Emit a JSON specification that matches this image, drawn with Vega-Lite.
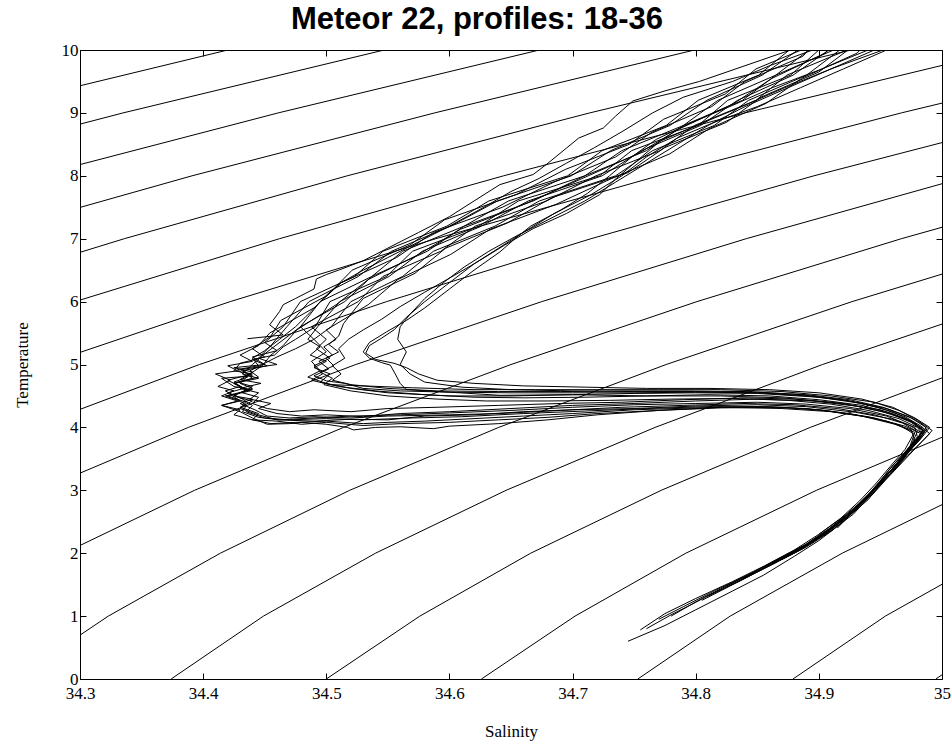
{
"$schema":"https://vega.github.io/schema/vega-lite/v6.json",
"width":862,"height":629,
"autosize":{"type":"none"},
"padding":{"left":80,"top":50,"right":9,"bottom":66},
"background":"white",
"title":{"text":"Meteor 22, profiles: 18-36","font":"Liberation Sans","fontSize":31,"fontWeight":"bold","color":"black","offset":5,"dx":-34},
"config":{"view":{"stroke":null},"axis":{"domainColor":"black","domainWidth":1,"tickColor":"black","tickSize":-6,"tickWidth":1,"labelColor":"black","labelFont":"Liberation Serif","labelFontSize":17,"titleFont":"Liberation Serif","titleFontSize":17,"titleFontWeight":"normal","titleColor":"black","grid":false,"labelOverlap":false,"labelFlush":false}},
"datasets":{
"contours":[
{"c":-6,"s":34.995,"t":0},{"c":-6,"s":35.07,"t":1},
{"c":-5,"s":34.879,"t":0},{"c":-5,"s":34.954,"t":1},{"c":-5,"s":35.045,"t":2},
{"c":-4,"s":34.753,"t":0},{"c":-4,"s":34.828,"t":1},{"c":-4,"s":34.919,"t":2},{"c":-4,"s":35.024,"t":3},
{"c":-3,"s":34.626,"t":0},{"c":-3,"s":34.702,"t":1},{"c":-3,"s":34.792,"t":2},{"c":-3,"s":34.898,"t":3},{"c":-3,"s":35.019,"t":4},
{"c":-2,"s":34.5,"t":0},{"c":-2,"s":34.576,"t":1},{"c":-2,"s":34.666,"t":2},{"c":-2,"s":34.772,"t":3},{"c":-2,"s":34.893,"t":4},{"c":-2,"s":35.029,"t":5},
{"c":-1,"s":34.374,"t":0},{"c":-1,"s":34.449,"t":1},{"c":-1,"s":34.54,"t":2},{"c":-1,"s":34.646,"t":3},{"c":-1,"s":34.767,"t":4},{"c":-1,"s":34.903,"t":5},{"c":-1,"s":35.054,"t":6},
{"c":0,"s":34.247,"t":0},{"c":0,"s":34.323,"t":1},{"c":0,"s":34.414,"t":2},{"c":0,"s":34.519,"t":3},{"c":0,"s":34.64,"t":4},{"c":0,"s":34.776,"t":5},{"c":0,"s":34.927,"t":6},{"c":0,"s":35.094,"t":7},
{"c":1,"s":34.197,"t":1},{"c":1,"s":34.287,"t":2},{"c":1,"s":34.393,"t":3},{"c":1,"s":34.514,"t":4},{"c":1,"s":34.65,"t":5},{"c":1,"s":34.801,"t":6},{"c":1,"s":34.967,"t":7},{"c":1,"s":35.149,"t":8},
{"c":2,"s":34.267,"t":3},{"c":2,"s":34.388,"t":4},{"c":2,"s":34.524,"t":5},{"c":2,"s":34.675,"t":6},{"c":2,"s":34.841,"t":7},{"c":2,"s":35.023,"t":8},
{"c":3,"s":34.261,"t":4},{"c":3,"s":34.397,"t":5},{"c":3,"s":34.549,"t":6},{"c":3,"s":34.715,"t":7},{"c":3,"s":34.896,"t":8},{"c":3,"s":35.093,"t":9},
{"c":4,"s":34.271,"t":5},{"c":4,"s":34.422,"t":6},{"c":4,"s":34.589,"t":7},{"c":4,"s":34.77,"t":8},{"c":4,"s":34.967,"t":9},{"c":4,"s":35.179,"t":10},
{"c":5,"s":34.145,"t":5},{"c":5,"s":34.296,"t":6},{"c":5,"s":34.462,"t":7},{"c":5,"s":34.644,"t":8},{"c":5,"s":34.84,"t":9},{"c":5,"s":35.052,"t":10},
{"c":6,"s":34.17,"t":6},{"c":6,"s":34.336,"t":7},{"c":6,"s":34.517,"t":8},{"c":6,"s":34.714,"t":9},{"c":6,"s":34.926,"t":10},
{"c":7,"s":34.21,"t":7},{"c":7,"s":34.391,"t":8},{"c":7,"s":34.588,"t":9},{"c":7,"s":34.799,"t":10},
{"c":8,"s":34.265,"t":8},{"c":8,"s":34.461,"t":9},{"c":8,"s":34.673,"t":10},
{"c":9,"s":34.139,"t":8},{"c":9,"s":34.335,"t":9},{"c":9,"s":34.547,"t":10},
{"c":10,"s":34.209,"t":9},{"c":10,"s":34.42,"t":10}
],
"profiles":[
{"p":18,"s":34.905,"t":10.4},{"p":18,"s":34.877,"t":10.0},{"p":18,"s":34.84,"t":9.75},{"p":18,"s":34.803,"t":9.5},{"p":18,"s":34.775,"t":9.35},{"p":18,"s":34.749,"t":9.19},{"p":18,"s":34.735,"t":8.95},{"p":18,"s":34.725,"t":8.76},{"p":18,"s":34.705,"t":8.6},{"p":18,"s":34.695,"t":8.44},{"p":18,"s":34.68,"t":8.2},{"p":18,"s":34.668,"t":8.02},{"p":18,"s":34.641,"t":7.86},{"p":18,"s":34.62,"t":7.6},{"p":18,"s":34.6,"t":7.35},{"p":18,"s":34.575,"t":7.1},{"p":18,"s":34.55,"t":6.85},{"p":18,"s":34.53,"t":6.65},{"p":18,"s":34.51,"t":6.5},{"p":18,"s":34.5,"t":6.43},{"p":18,"s":34.492,"t":6.36},{"p":18,"s":34.49,"t":6.2},{"p":18,"s":34.475,"t":6.05},{"p":18,"s":34.465,"t":5.95},{"p":18,"s":34.462,"t":5.84},{"p":18,"s":34.454,"t":5.63},{"p":18,"s":34.465,"t":5.47},{"p":18,"s":34.436,"t":5.41},
{"p":19,"s":34.93,"t":10.4},{"p":19,"s":34.892,"t":10.0},{"p":19,"s":34.865,"t":9.6},{"p":19,"s":34.818,"t":9.2},{"p":19,"s":34.79,"t":8.8},{"p":19,"s":34.74,"t":8.4},{"p":19,"s":34.71,"t":8.0},{"p":19,"s":34.648,"t":7.6},{"p":19,"s":34.612,"t":7.2},{"p":19,"s":34.562,"t":6.8},{"p":19,"s":34.537,"t":6.4},{"p":19,"s":34.495,"t":6.0},{"p":19,"s":34.479,"t":5.6},{"p":19,"s":34.452,"t":5.2},{"p":19,"s":34.44,"t":5.0},{"p":19,"s":34.432,"t":4.85},{"p":19,"s":34.445,"t":4.78},{"p":19,"s":34.425,"t":4.7},{"p":19,"s":34.438,"t":4.58},{"p":19,"s":34.42,"t":4.5},{"p":19,"s":34.435,"t":4.4},{"p":19,"s":34.43,"t":4.3},{"p":19,"s":34.445,"t":4.2},{"p":19,"s":34.46,"t":4.12},{"p":19,"s":34.49,"t":4.1},{"p":19,"s":34.52,"t":4.13},{"p":19,"s":34.55,"t":4.12},{"p":19,"s":34.58,"t":4.18},{"p":19,"s":34.62,"t":4.2},{"p":19,"s":34.66,"t":4.25},{"p":19,"s":34.7,"t":4.28},{"p":19,"s":34.75,"t":4.3},{"p":19,"s":34.8,"t":4.34},{"p":19,"s":34.85,"t":4.36},{"p":19,"s":34.89,"t":4.33},{"p":19,"s":34.93,"t":4.24},{"p":19,"s":34.96,"t":4.13},{"p":19,"s":34.978,"t":4.0},{"p":19,"s":34.98,"t":3.85},{"p":19,"s":34.97,"t":3.6},{"p":19,"s":34.96,"t":3.35},{"p":19,"s":34.948,"t":3.1},{"p":19,"s":34.935,"t":2.8},{"p":19,"s":34.92,"t":2.5},{"p":19,"s":34.9,"t":2.2},{"p":19,"s":34.88,"t":1.95},{"p":19,"s":34.855,"t":1.65},{"p":19,"s":34.83,"t":1.4},{"p":19,"s":34.8,"t":1.1},{"p":19,"s":34.775,"t":0.85},{"p":19,"s":34.745,"t":0.6},
{"p":20,"s":34.93,"t":10.4},{"p":20,"s":34.912,"t":10.0},{"p":20,"s":34.865,"t":9.6},{"p":20,"s":34.838,"t":9.2},{"p":20,"s":34.79,"t":8.8},{"p":20,"s":34.76,"t":8.4},{"p":20,"s":34.71,"t":8.0},{"p":20,"s":34.668,"t":7.6},{"p":20,"s":34.612,"t":7.2},{"p":20,"s":34.582,"t":6.8},{"p":20,"s":34.537,"t":6.4},{"p":20,"s":34.515,"t":6.0},{"p":20,"s":34.479,"t":5.6},{"p":20,"s":34.49,"t":5.4},{"p":20,"s":34.5,"t":5.2},{"p":20,"s":34.488,"t":5.05},{"p":20,"s":34.495,"t":4.9},{"p":20,"s":34.485,"t":4.8},{"p":20,"s":34.5,"t":4.7},{"p":20,"s":34.52,"t":4.62},{"p":20,"s":34.55,"t":4.55},{"p":20,"s":34.6,"t":4.5},{"p":20,"s":34.65,"t":4.5},{"p":20,"s":34.7,"t":4.52},{"p":20,"s":34.75,"t":4.54},{"p":20,"s":34.8,"t":4.55},{"p":20,"s":34.85,"t":4.54},{"p":20,"s":34.9,"t":4.48},{"p":20,"s":34.935,"t":4.38},{"p":20,"s":34.96,"t":4.25},{"p":20,"s":34.975,"t":4.1},{"p":20,"s":34.985,"t":3.95},{"p":20,"s":34.975,"t":3.7},{"p":20,"s":34.962,"t":3.4},{"p":20,"s":34.95,"t":3.1},{"p":20,"s":34.94,"t":2.85},{"p":20,"s":34.925,"t":2.6},{"p":20,"s":34.91,"t":2.35},{"p":20,"s":34.89,"t":2.1},{"p":20,"s":34.87,"t":1.9},
{"p":21,"s":34.97,"t":10.4},{"p":21,"s":34.94,"t":10.0},{"p":21,"s":34.9,"t":9.68},{"p":21,"s":34.862,"t":9.4},{"p":21,"s":34.83,"t":9.12},{"p":21,"s":34.797,"t":8.85},{"p":21,"s":34.768,"t":8.58},{"p":21,"s":34.748,"t":8.3},{"p":21,"s":34.73,"t":8.0},{"p":21,"s":34.712,"t":7.72},{"p":21,"s":34.69,"t":7.45},{"p":21,"s":34.666,"t":7.2},{"p":21,"s":34.652,"t":6.98},{"p":21,"s":34.641,"t":6.79},{"p":21,"s":34.62,"t":6.5},{"p":21,"s":34.6,"t":6.2},{"p":21,"s":34.58,"t":5.9},{"p":21,"s":34.565,"t":5.7},{"p":21,"s":34.549,"t":5.52},{"p":21,"s":34.535,"t":5.35},{"p":21,"s":34.53,"t":5.2},{"p":21,"s":34.535,"t":5.1},{"p":21,"s":34.545,"t":5.03},{"p":21,"s":34.552,"t":4.99},{"p":21,"s":34.556,"t":4.85},{"p":21,"s":34.56,"t":4.7},{"p":21,"s":34.565,"t":4.6},{"p":21,"s":34.6,"t":4.56},{"p":21,"s":34.641,"t":4.51},{"p":21,"s":34.7,"t":4.52},{"p":21,"s":34.76,"t":4.5},{"p":21,"s":34.82,"t":4.5},{"p":21,"s":34.87,"t":4.47},{"p":21,"s":34.91,"t":4.4},{"p":21,"s":34.95,"t":4.28},{"p":21,"s":34.975,"t":4.1},{"p":21,"s":34.985,"t":3.95},{"p":21,"s":34.975,"t":3.65},{"p":21,"s":34.96,"t":3.3},{"p":21,"s":34.945,"t":3.0},{"p":21,"s":34.93,"t":2.7},{"p":21,"s":34.915,"t":2.4},
{"p":22,"s":34.919,"t":10.4},{"p":22,"s":34.883,"t":10.0},{"p":22,"s":34.854,"t":9.6},{"p":22,"s":34.809,"t":9.2},{"p":22,"s":34.779,"t":8.8},{"p":22,"s":34.731,"t":8.4},{"p":22,"s":34.699,"t":8.0},{"p":22,"s":34.639,"t":7.6},{"p":22,"s":34.601,"t":7.2},{"p":22,"s":34.553,"t":6.8},{"p":22,"s":34.526,"t":6.4},{"p":22,"s":34.486,"t":6.0},{"p":22,"s":34.468,"t":5.6},{"p":22,"s":34.455,"t":5.3},{"p":22,"s":34.445,"t":5.1},{"p":22,"s":34.46,"t":5.0},{"p":22,"s":34.43,"t":4.92},{"p":22,"s":34.44,"t":4.82},{"p":22,"s":34.415,"t":4.78},{"p":22,"s":34.425,"t":4.65},{"p":22,"s":34.44,"t":4.6},{"p":22,"s":34.418,"t":4.5},{"p":22,"s":34.43,"t":4.42},{"p":22,"s":34.415,"t":4.35},{"p":22,"s":34.43,"t":4.25},{"p":22,"s":34.44,"t":4.15},{"p":22,"s":34.452,"t":4.05},{"p":22,"s":34.47,"t":4.06},{"p":22,"s":34.48,"t":4.08},{"p":22,"s":34.5,"t":4.05},{"p":22,"s":34.517,"t":4.0},{"p":22,"s":34.522,"t":3.96},{"p":22,"s":34.54,"t":4.0},{"p":22,"s":34.56,"t":4.01},{"p":22,"s":34.587,"t":3.98},{"p":22,"s":34.6,"t":4.02},{"p":22,"s":34.64,"t":4.06},{"p":22,"s":34.68,"t":4.12},{"p":22,"s":34.72,"t":4.2},{"p":22,"s":34.77,"t":4.27},{"p":22,"s":34.82,"t":4.32},{"p":22,"s":34.87,"t":4.3},{"p":22,"s":34.91,"t":4.25},{"p":22,"s":34.945,"t":4.15},{"p":22,"s":34.97,"t":4.02},{"p":22,"s":34.983,"t":3.9},{"p":22,"s":34.972,"t":3.65},{"p":22,"s":34.958,"t":3.35},{"p":22,"s":34.946,"t":3.05},{"p":22,"s":34.932,"t":2.78},{"p":22,"s":34.918,"t":2.55},{"p":22,"s":34.9,"t":2.3},
{"p":23,"s":34.939,"t":10.4},{"p":23,"s":34.923,"t":10.0},{"p":23,"s":34.874,"t":9.6},{"p":23,"s":34.849,"t":9.2},{"p":23,"s":34.799,"t":8.8},{"p":23,"s":34.771,"t":8.4},{"p":23,"s":34.719,"t":8.0},{"p":23,"s":34.679,"t":7.6},{"p":23,"s":34.621,"t":7.2},{"p":23,"s":34.593,"t":6.8},{"p":23,"s":34.546,"t":6.4},{"p":23,"s":34.526,"t":6.0},{"p":23,"s":34.488,"t":5.6},{"p":23,"s":34.5,"t":5.4},{"p":23,"s":34.492,"t":5.25},{"p":23,"s":34.503,"t":5.1},{"p":23,"s":34.49,"t":4.98},{"p":23,"s":34.497,"t":4.85},{"p":23,"s":34.488,"t":4.75},{"p":23,"s":34.503,"t":4.68},{"p":23,"s":34.53,"t":4.66},{"p":23,"s":34.57,"t":4.63},{"p":23,"s":34.62,"t":4.6},{"p":23,"s":34.67,"t":4.6},{"p":23,"s":34.72,"t":4.6},{"p":23,"s":34.77,"t":4.6},{"p":23,"s":34.82,"t":4.6},{"p":23,"s":34.87,"t":4.57},{"p":23,"s":34.91,"t":4.5},{"p":23,"s":34.945,"t":4.4},{"p":23,"s":34.965,"t":4.27},{"p":23,"s":34.98,"t":4.12},{"p":23,"s":34.988,"t":3.98},{"p":23,"s":34.978,"t":3.75},{"p":23,"s":34.967,"t":3.45},{"p":23,"s":34.953,"t":3.15},{"p":23,"s":34.94,"t":2.88},{"p":23,"s":34.928,"t":2.62},{"p":23,"s":34.91,"t":2.36},{"p":23,"s":34.89,"t":2.12},{"p":23,"s":34.865,"t":1.85},{"p":23,"s":34.838,"t":1.6},
{"p":24,"s":34.916,"t":10.4},{"p":24,"s":34.876,"t":10.0},{"p":24,"s":34.851,"t":9.6},{"p":24,"s":34.802,"t":9.2},{"p":24,"s":34.776,"t":8.8},{"p":24,"s":34.724,"t":8.4},{"p":24,"s":34.696,"t":8.0},{"p":24,"s":34.632,"t":7.6},{"p":24,"s":34.598,"t":7.2},{"p":24,"s":34.546,"t":6.8},{"p":24,"s":34.523,"t":6.4},{"p":24,"s":34.479,"t":6.0},{"p":24,"s":34.465,"t":5.6},{"p":24,"s":34.45,"t":5.35},{"p":24,"s":34.46,"t":5.22},{"p":24,"s":34.44,"t":5.12},{"p":24,"s":34.45,"t":5.0},{"p":24,"s":34.425,"t":4.95},{"p":24,"s":34.44,"t":4.88},{"p":24,"s":34.43,"t":4.76},{"p":24,"s":34.447,"t":4.7},{"p":24,"s":34.43,"t":4.62},{"p":24,"s":34.445,"t":4.55},{"p":24,"s":34.438,"t":4.45},{"p":24,"s":34.455,"t":4.38},{"p":24,"s":34.445,"t":4.3},{"p":24,"s":34.46,"t":4.22},{"p":24,"s":34.48,"t":4.18},{"p":24,"s":34.5,"t":4.2},{"p":24,"s":34.53,"t":4.17},{"p":24,"s":34.56,"t":4.22},{"p":24,"s":34.6,"t":4.25},{"p":24,"s":34.65,"t":4.3},{"p":24,"s":34.7,"t":4.35},{"p":24,"s":34.75,"t":4.38},{"p":24,"s":34.8,"t":4.42},{"p":24,"s":34.85,"t":4.45},{"p":24,"s":34.895,"t":4.42},{"p":24,"s":34.93,"t":4.34},{"p":24,"s":34.958,"t":4.22},{"p":24,"s":34.975,"t":4.08},{"p":24,"s":34.984,"t":3.95},{"p":24,"s":34.977,"t":3.72},{"p":24,"s":34.965,"t":3.45},{"p":24,"s":34.952,"t":3.18},{"p":24,"s":34.94,"t":2.92},{"p":24,"s":34.926,"t":2.65},{"p":24,"s":34.908,"t":2.38},{"p":24,"s":34.888,"t":2.12},{"p":24,"s":34.862,"t":1.85},{"p":24,"s":34.835,"t":1.58},{"p":24,"s":34.805,"t":1.28},{"p":24,"s":34.78,"t":1.0},
{"p":25,"s":34.985,"t":10.4},{"p":25,"s":34.952,"t":10.0},{"p":25,"s":34.91,"t":9.7},{"p":25,"s":34.871,"t":9.39},{"p":25,"s":34.835,"t":9.08},{"p":25,"s":34.803,"t":8.82},{"p":25,"s":34.771,"t":8.55},{"p":25,"s":34.75,"t":8.2},{"p":25,"s":34.735,"t":7.95},{"p":25,"s":34.722,"t":7.7},{"p":25,"s":34.695,"t":7.4},{"p":25,"s":34.668,"t":7.16},{"p":25,"s":34.645,"t":6.9},{"p":25,"s":34.62,"t":6.6},{"p":25,"s":34.598,"t":6.35},{"p":25,"s":34.58,"t":6.15},{"p":25,"s":34.56,"t":5.92},{"p":25,"s":34.545,"t":5.72},{"p":25,"s":34.53,"t":5.55},{"p":25,"s":34.518,"t":5.4},{"p":25,"s":34.51,"t":5.25},{"p":25,"s":34.515,"t":5.1},{"p":25,"s":34.505,"t":4.98},{"p":25,"s":34.512,"t":4.85},{"p":25,"s":34.505,"t":4.75},{"p":25,"s":34.52,"t":4.68},{"p":25,"s":34.55,"t":4.62},{"p":25,"s":34.59,"t":4.58},{"p":25,"s":34.64,"t":4.57},{"p":25,"s":34.69,"t":4.57},{"p":25,"s":34.74,"t":4.58},{"p":25,"s":34.79,"t":4.58},{"p":25,"s":34.84,"t":4.57},{"p":25,"s":34.885,"t":4.52},{"p":25,"s":34.92,"t":4.44},{"p":25,"s":34.948,"t":4.32},{"p":25,"s":34.97,"t":4.17},{"p":25,"s":34.983,"t":4.02},{"p":25,"s":34.99,"t":3.9},{"p":25,"s":34.98,"t":3.7},{"p":25,"s":34.968,"t":3.45},{"p":25,"s":34.955,"t":3.18},{"p":25,"s":34.943,"t":2.92},
{"p":26,"s":34.927,"t":10.35},{"p":26,"s":34.905,"t":9.95},{"p":26,"s":34.862,"t":9.55},{"p":26,"s":34.831,"t":9.15},{"p":26,"s":34.787,"t":8.75},{"p":26,"s":34.753,"t":8.35},{"p":26,"s":34.707,"t":7.95},{"p":26,"s":34.661,"t":7.55},{"p":26,"s":34.609,"t":7.15},{"p":26,"s":34.575,"t":6.75},{"p":26,"s":34.534,"t":6.35},{"p":26,"s":34.508,"t":5.95},{"p":26,"s":34.476,"t":5.55},{"p":26,"s":34.465,"t":5.3},{"p":26,"s":34.455,"t":5.15},{"p":26,"s":34.448,"t":4.98},{"p":26,"s":34.438,"t":4.85},{"p":26,"s":34.43,"t":4.7},{"p":26,"s":34.44,"t":4.62},{"p":26,"s":34.425,"t":4.52},{"p":26,"s":34.432,"t":4.45},{"p":26,"s":34.44,"t":4.35},{"p":26,"s":34.435,"t":4.25},{"p":26,"s":34.45,"t":4.15},{"p":26,"s":34.47,"t":4.12},{"p":26,"s":34.5,"t":4.14},{"p":26,"s":34.53,"t":4.12},{"p":26,"s":34.57,"t":4.15},{"p":26,"s":34.61,"t":4.17},{"p":26,"s":34.66,"t":4.22},{"p":26,"s":34.71,"t":4.26},{"p":26,"s":34.76,"t":4.3},{"p":26,"s":34.81,"t":4.33},{"p":26,"s":34.86,"t":4.33},{"p":26,"s":34.9,"t":4.28},{"p":26,"s":34.935,"t":4.18},{"p":26,"s":34.962,"t":4.05},{"p":26,"s":34.978,"t":3.92},{"p":26,"s":34.974,"t":3.7},{"p":26,"s":34.963,"t":3.42},{"p":26,"s":34.95,"t":3.13},{"p":26,"s":34.938,"t":2.86},{"p":26,"s":34.923,"t":2.58},{"p":26,"s":34.905,"t":2.3},{"p":26,"s":34.885,"t":2.05},{"p":26,"s":34.86,"t":1.8},{"p":26,"s":34.835,"t":1.55},{"p":26,"s":34.81,"t":1.32},
{"p":27,"s":34.944,"t":10.4},{"p":27,"s":34.908,"t":10.0},{"p":27,"s":34.879,"t":9.6},{"p":27,"s":34.834,"t":9.2},{"p":27,"s":34.804,"t":8.8},{"p":27,"s":34.756,"t":8.4},{"p":27,"s":34.724,"t":8.0},{"p":27,"s":34.664,"t":7.6},{"p":27,"s":34.626,"t":7.2},{"p":27,"s":34.578,"t":6.8},{"p":27,"s":34.551,"t":6.4},{"p":27,"s":34.511,"t":6.0},{"p":27,"s":34.493,"t":5.6},{"p":27,"s":34.485,"t":5.4},{"p":27,"s":34.495,"t":5.28},{"p":27,"s":34.487,"t":5.15},{"p":27,"s":34.5,"t":5.05},{"p":27,"s":34.49,"t":4.95},{"p":27,"s":34.503,"t":4.85},{"p":27,"s":34.495,"t":4.72},{"p":27,"s":34.51,"t":4.65},{"p":27,"s":34.54,"t":4.58},{"p":27,"s":34.58,"t":4.52},{"p":27,"s":34.62,"t":4.48},{"p":27,"s":34.66,"t":4.47},{"p":27,"s":34.71,"t":4.48},{"p":27,"s":34.76,"t":4.5},{"p":27,"s":34.81,"t":4.52},{"p":27,"s":34.86,"t":4.5},{"p":27,"s":34.9,"t":4.44},{"p":27,"s":34.935,"t":4.35},{"p":27,"s":34.96,"t":4.22},{"p":27,"s":34.978,"t":4.07},{"p":27,"s":34.986,"t":3.93},{"p":27,"s":34.976,"t":3.7},{"p":27,"s":34.964,"t":3.43},{"p":27,"s":34.952,"t":3.16},{"p":27,"s":34.94,"t":2.9},{"p":27,"s":34.926,"t":2.62},{"p":27,"s":34.908,"t":2.35},{"p":27,"s":34.888,"t":2.1},{"p":27,"s":34.862,"t":1.83},{"p":27,"s":34.835,"t":1.56},{"p":27,"s":34.808,"t":1.3},{"p":27,"s":34.78,"t":1.02},{"p":27,"s":34.76,"t":0.8},
{"p":28,"s":34.955,"t":10.4},{"p":28,"s":34.917,"t":10.0},{"p":28,"s":34.89,"t":9.6},{"p":28,"s":34.843,"t":9.2},{"p":28,"s":34.815,"t":8.8},{"p":28,"s":34.765,"t":8.4},{"p":28,"s":34.735,"t":8.0},{"p":28,"s":34.673,"t":7.6},{"p":28,"s":34.637,"t":7.2},{"p":28,"s":34.587,"t":6.8},{"p":28,"s":34.562,"t":6.4},{"p":28,"s":34.52,"t":6.0},{"p":28,"s":34.504,"t":5.6},{"p":28,"s":34.49,"t":5.4},{"p":28,"s":34.475,"t":5.25},{"p":28,"s":34.46,"t":5.12},{"p":28,"s":34.45,"t":5.02},{"p":28,"s":34.438,"t":4.9},{"p":28,"s":34.445,"t":4.8},{"p":28,"s":34.428,"t":4.72},{"p":28,"s":34.44,"t":4.65},{"p":28,"s":34.432,"t":4.55},{"p":28,"s":34.445,"t":4.48},{"p":28,"s":34.44,"t":4.38},{"p":28,"s":34.452,"t":4.3},{"p":28,"s":34.47,"t":4.25},{"p":28,"s":34.49,"t":4.28},{"p":28,"s":34.52,"t":4.25},{"p":28,"s":34.55,"t":4.3},{"p":28,"s":34.59,"t":4.32},{"p":28,"s":34.64,"t":4.35},{"p":28,"s":34.69,"t":4.38},{"p":28,"s":34.74,"t":4.4},{"p":28,"s":34.79,"t":4.44},{"p":28,"s":34.84,"t":4.47},{"p":28,"s":34.88,"t":4.45},{"p":28,"s":34.92,"t":4.38},{"p":28,"s":34.95,"t":4.26},{"p":28,"s":34.972,"t":4.12},{"p":28,"s":34.985,"t":3.98},{"p":28,"s":34.98,"t":3.78},{"p":28,"s":34.968,"t":3.5},{"p":28,"s":34.956,"t":3.22},{"p":28,"s":34.944,"t":2.95},{"p":28,"s":34.93,"t":2.68},{"p":28,"s":34.912,"t":2.42},{"p":28,"s":34.892,"t":2.16},{"p":28,"s":34.87,"t":1.92},
{"p":29,"s":34.985,"t":10.4},{"p":29,"s":34.955,"t":10.0},{"p":29,"s":34.92,"t":9.7},{"p":29,"s":34.885,"t":9.4},{"p":29,"s":34.85,"t":9.1},{"p":29,"s":34.815,"t":8.85},{"p":29,"s":34.785,"t":8.6},{"p":29,"s":34.76,"t":8.3},{"p":29,"s":34.74,"t":8.0},{"p":29,"s":34.715,"t":7.7},{"p":29,"s":34.685,"t":7.4},{"p":29,"s":34.66,"t":7.1},{"p":29,"s":34.64,"t":6.85},{"p":29,"s":34.62,"t":6.6},{"p":29,"s":34.6,"t":6.3},{"p":29,"s":34.58,"t":6.0},{"p":29,"s":34.565,"t":5.75},{"p":29,"s":34.555,"t":5.55},{"p":29,"s":34.545,"t":5.42},{"p":29,"s":34.535,"t":5.3},{"p":29,"s":34.532,"t":5.18},{"p":29,"s":34.54,"t":5.08},{"p":29,"s":34.555,"t":5.02},{"p":29,"s":34.565,"t":4.95},{"p":29,"s":34.575,"t":4.85},{"p":29,"s":34.59,"t":4.75},{"p":29,"s":34.62,"t":4.7},{"p":29,"s":34.66,"t":4.66},{"p":29,"s":34.71,"t":4.64},{"p":29,"s":34.76,"t":4.62},{"p":29,"s":34.81,"t":4.62},{"p":29,"s":34.86,"t":4.6},{"p":29,"s":34.9,"t":4.55},{"p":29,"s":34.935,"t":4.45},{"p":29,"s":34.96,"t":4.32},{"p":29,"s":34.978,"t":4.15},{"p":29,"s":34.99,"t":4.0},{"p":29,"s":34.982,"t":3.8},{"p":29,"s":34.97,"t":3.55},{"p":29,"s":34.958,"t":3.28},
{"p":30,"s":34.914,"t":10.5},{"p":30,"s":34.898,"t":10.1},{"p":30,"s":34.849,"t":9.7},{"p":30,"s":34.824,"t":9.3},{"p":30,"s":34.774,"t":8.9},{"p":30,"s":34.746,"t":8.5},{"p":30,"s":34.694,"t":8.1},{"p":30,"s":34.654,"t":7.7},{"p":30,"s":34.596,"t":7.3},{"p":30,"s":34.568,"t":6.9},{"p":30,"s":34.521,"t":6.5},{"p":30,"s":34.501,"t":6.1},{"p":30,"s":34.463,"t":5.7},{"p":30,"s":34.455,"t":5.45},{"p":30,"s":34.44,"t":5.25},{"p":30,"s":34.45,"t":5.12},{"p":30,"s":34.43,"t":5.02},{"p":30,"s":34.425,"t":4.9},{"p":30,"s":34.44,"t":4.85},{"p":30,"s":34.42,"t":4.75},{"p":30,"s":34.43,"t":4.65},{"p":30,"s":34.418,"t":4.58},{"p":30,"s":34.428,"t":4.48},{"p":30,"s":34.44,"t":4.42},{"p":30,"s":34.43,"t":4.32},{"p":30,"s":34.445,"t":4.22},{"p":30,"s":34.44,"t":4.12},{"p":30,"s":34.455,"t":4.06},{"p":30,"s":34.475,"t":4.08},{"p":30,"s":34.5,"t":4.1},{"p":30,"s":34.53,"t":4.06},{"p":30,"s":34.55,"t":4.08},{"p":30,"s":34.58,"t":4.1},{"p":30,"s":34.62,"t":4.14},{"p":30,"s":34.66,"t":4.18},{"p":30,"s":34.7,"t":4.22},{"p":30,"s":34.75,"t":4.28},{"p":30,"s":34.8,"t":4.31},{"p":30,"s":34.85,"t":4.33},{"p":30,"s":34.89,"t":4.3},{"p":30,"s":34.925,"t":4.22},{"p":30,"s":34.955,"t":4.1},{"p":30,"s":34.975,"t":3.96},{"p":30,"s":34.978,"t":3.78},{"p":30,"s":34.968,"t":3.52},{"p":30,"s":34.955,"t":3.24},{"p":30,"s":34.943,"t":2.98},{"p":30,"s":34.93,"t":2.72},{"p":30,"s":34.915,"t":2.46},{"p":30,"s":34.896,"t":2.2},{"p":30,"s":34.875,"t":1.98},{"p":30,"s":34.85,"t":1.72},{"p":30,"s":34.825,"t":1.48},
{"p":31,"s":34.951,"t":10.35},{"p":31,"s":34.931,"t":9.95},{"p":31,"s":34.886,"t":9.55},{"p":31,"s":34.857,"t":9.15},{"p":31,"s":34.811,"t":8.75},{"p":31,"s":34.779,"t":8.35},{"p":31,"s":34.731,"t":7.95},{"p":31,"s":34.687,"t":7.55},{"p":31,"s":34.633,"t":7.15},{"p":31,"s":34.601,"t":6.75},{"p":31,"s":34.558,"t":6.35},{"p":31,"s":34.534,"t":5.95},{"p":31,"s":34.5,"t":5.55},{"p":31,"s":34.508,"t":5.4},{"p":31,"s":34.498,"t":5.28},{"p":31,"s":34.505,"t":5.15},{"p":31,"s":34.494,"t":5.05},{"p":31,"s":34.502,"t":4.93},{"p":31,"s":34.49,"t":4.82},{"p":31,"s":34.5,"t":4.74},{"p":31,"s":34.515,"t":4.7},{"p":31,"s":34.53,"t":4.62},{"p":31,"s":34.56,"t":4.58},{"p":31,"s":34.6,"t":4.56},{"p":31,"s":34.65,"t":4.55},{"p":31,"s":34.7,"t":4.55},{"p":31,"s":34.75,"t":4.55},{"p":31,"s":34.8,"t":4.56},{"p":31,"s":34.85,"t":4.55},{"p":31,"s":34.89,"t":4.5},{"p":31,"s":34.925,"t":4.42},{"p":31,"s":34.955,"t":4.3},{"p":31,"s":34.975,"t":4.15},{"p":31,"s":34.987,"t":4.0},{"p":31,"s":34.983,"t":3.85},{"p":31,"s":34.972,"t":3.62},{"p":31,"s":34.96,"t":3.35},{"p":31,"s":34.948,"t":3.08},{"p":31,"s":34.935,"t":2.82},{"p":31,"s":34.92,"t":2.55},{"p":31,"s":34.902,"t":2.28},{"p":31,"s":34.882,"t":2.03},{"p":31,"s":34.858,"t":1.78},{"p":31,"s":34.832,"t":1.52},{"p":31,"s":34.805,"t":1.25},
{"p":32,"s":34.942,"t":10.4},{"p":32,"s":34.9,"t":10.0},{"p":32,"s":34.877,"t":9.6},{"p":32,"s":34.826,"t":9.2},{"p":32,"s":34.802,"t":8.8},{"p":32,"s":34.748,"t":8.4},{"p":32,"s":34.722,"t":8.0},{"p":32,"s":34.656,"t":7.6},{"p":32,"s":34.624,"t":7.2},{"p":32,"s":34.57,"t":6.8},{"p":32,"s":34.549,"t":6.4},{"p":32,"s":34.503,"t":6.0},{"p":32,"s":34.491,"t":5.6},{"p":32,"s":34.475,"t":5.4},{"p":32,"s":34.465,"t":5.28},{"p":32,"s":34.458,"t":5.15},{"p":32,"s":34.44,"t":5.08},{"p":32,"s":34.452,"t":4.98},{"p":32,"s":34.432,"t":4.9},{"p":32,"s":34.44,"t":4.78},{"p":32,"s":34.425,"t":4.7},{"p":32,"s":34.435,"t":4.6},{"p":32,"s":34.425,"t":4.5},{"p":32,"s":34.44,"t":4.45},{"p":32,"s":34.43,"t":4.38},{"p":32,"s":34.442,"t":4.28},{"p":32,"s":34.452,"t":4.18},{"p":32,"s":34.47,"t":4.15},{"p":32,"s":34.49,"t":4.17},{"p":32,"s":34.52,"t":4.15},{"p":32,"s":34.55,"t":4.18},{"p":32,"s":34.6,"t":4.2},{"p":32,"s":34.64,"t":4.22},{"p":32,"s":34.69,"t":4.27},{"p":32,"s":34.74,"t":4.32},{"p":32,"s":34.79,"t":4.35},{"p":32,"s":34.84,"t":4.38},{"p":32,"s":34.88,"t":4.36},{"p":32,"s":34.915,"t":4.3},{"p":32,"s":34.945,"t":4.2},{"p":32,"s":34.968,"t":4.07},{"p":32,"s":34.98,"t":3.93},{"p":32,"s":34.975,"t":3.72},{"p":32,"s":34.963,"t":3.46},{"p":32,"s":34.951,"t":3.18},{"p":32,"s":34.94,"t":2.93},{"p":32,"s":34.926,"t":2.66},{"p":32,"s":34.909,"t":2.4},{"p":32,"s":34.89,"t":2.15},{"p":32,"s":34.868,"t":1.92},{"p":32,"s":34.843,"t":1.66},{"p":32,"s":34.815,"t":1.4},{"p":32,"s":34.79,"t":1.15},{"p":32,"s":34.77,"t":0.95},
{"p":33,"s":34.965,"t":10.45},{"p":33,"s":34.927,"t":10.05},{"p":33,"s":34.9,"t":9.65},{"p":33,"s":34.853,"t":9.25},{"p":33,"s":34.825,"t":8.85},{"p":33,"s":34.775,"t":8.45},{"p":33,"s":34.745,"t":8.05},{"p":33,"s":34.683,"t":7.65},{"p":33,"s":34.647,"t":7.25},{"p":33,"s":34.597,"t":6.85},{"p":33,"s":34.572,"t":6.45},{"p":33,"s":34.53,"t":6.05},{"p":33,"s":34.514,"t":5.65},{"p":33,"s":34.51,"t":5.45},{"p":33,"s":34.502,"t":5.32},{"p":33,"s":34.51,"t":5.2},{"p":33,"s":34.5,"t":5.1},{"p":33,"s":34.506,"t":4.98},{"p":33,"s":34.495,"t":4.88},{"p":33,"s":34.505,"t":4.78},{"p":33,"s":34.498,"t":4.68},{"p":33,"s":34.52,"t":4.58},{"p":33,"s":34.55,"t":4.5},{"p":33,"s":34.59,"t":4.45},{"p":33,"s":34.63,"t":4.42},{"p":33,"s":34.68,"t":4.42},{"p":33,"s":34.73,"t":4.43},{"p":33,"s":34.78,"t":4.45},{"p":33,"s":34.83,"t":4.46},{"p":33,"s":34.875,"t":4.43},{"p":33,"s":34.91,"t":4.37},{"p":33,"s":34.94,"t":4.27},{"p":33,"s":34.965,"t":4.14},{"p":33,"s":34.98,"t":4.0},{"p":33,"s":34.985,"t":3.88},{"p":33,"s":34.975,"t":3.66},{"p":33,"s":34.962,"t":3.4},{"p":33,"s":34.95,"t":3.12},{"p":33,"s":34.938,"t":2.86},{"p":33,"s":34.922,"t":2.6},{"p":33,"s":34.905,"t":2.33},{"p":33,"s":34.886,"t":2.08},{"p":33,"s":34.862,"t":1.84},
{"p":34,"s":34.905,"t":10.3},{"p":34,"s":34.887,"t":9.9},{"p":34,"s":34.84,"t":9.5},{"p":34,"s":34.813,"t":9.1},{"p":34,"s":34.765,"t":8.7},{"p":34,"s":34.735,"t":8.3},{"p":34,"s":34.685,"t":7.9},{"p":34,"s":34.643,"t":7.5},{"p":34,"s":34.587,"t":7.1},{"p":34,"s":34.557,"t":6.7},{"p":34,"s":34.512,"t":6.3},{"p":34,"s":34.49,"t":5.9},{"p":34,"s":34.454,"t":5.5},{"p":34,"s":34.445,"t":5.3},{"p":34,"s":34.43,"t":5.15},{"p":34,"s":34.44,"t":5.05},{"p":34,"s":34.42,"t":4.98},{"p":34,"s":34.428,"t":4.9},{"p":34,"s":34.41,"t":4.85},{"p":34,"s":34.422,"t":4.75},{"p":34,"s":34.412,"t":4.65},{"p":34,"s":34.425,"t":4.58},{"p":34,"s":34.415,"t":4.5},{"p":34,"s":34.428,"t":4.42},{"p":34,"s":34.415,"t":4.35},{"p":34,"s":34.43,"t":4.28},{"p":34,"s":34.425,"t":4.2},{"p":34,"s":34.44,"t":4.12},{"p":34,"s":34.46,"t":4.1},{"p":34,"s":34.48,"t":4.05},{"p":34,"s":34.5,"t":4.08},{"p":34,"s":34.53,"t":4.03},{"p":34,"s":34.56,"t":4.06},{"p":34,"s":34.6,"t":4.08},{"p":34,"s":34.64,"t":4.12},{"p":34,"s":34.68,"t":4.16},{"p":34,"s":34.72,"t":4.22},{"p":34,"s":34.77,"t":4.27},{"p":34,"s":34.82,"t":4.31},{"p":34,"s":34.87,"t":4.32},{"p":34,"s":34.905,"t":4.27},{"p":34,"s":34.94,"t":4.17},{"p":34,"s":34.965,"t":4.04},{"p":34,"s":34.977,"t":3.9},{"p":34,"s":34.97,"t":3.65},{"p":34,"s":34.958,"t":3.38},{"p":34,"s":34.946,"t":3.1},{"p":34,"s":34.933,"t":2.83},{"p":34,"s":34.918,"t":2.56},{"p":34,"s":34.9,"t":2.3},{"p":34,"s":34.88,"t":2.05},{"p":34,"s":34.856,"t":1.8},{"p":34,"s":34.83,"t":1.55},{"p":34,"s":34.8,"t":1.28},{"p":34,"s":34.775,"t":1.04},{"p":34,"s":34.755,"t":0.78},
{"p":35,"s":34.925,"t":10.4},{"p":35,"s":34.895,"t":10.0},{"p":35,"s":34.86,"t":9.75},{"p":35,"s":34.83,"t":9.5},{"p":35,"s":34.79,"t":9.25},{"p":35,"s":34.765,"t":9.0},{"p":35,"s":34.74,"t":8.7},{"p":35,"s":34.718,"t":8.45},{"p":35,"s":34.695,"t":8.2},{"p":35,"s":34.672,"t":7.95},{"p":35,"s":34.65,"t":7.75},{"p":35,"s":34.628,"t":7.5},{"p":35,"s":34.6,"t":7.2},{"p":35,"s":34.575,"t":6.95},{"p":35,"s":34.55,"t":6.7},{"p":35,"s":34.53,"t":6.5},{"p":35,"s":34.512,"t":6.3},{"p":35,"s":34.5,"t":6.1},{"p":35,"s":34.488,"t":5.85},{"p":35,"s":34.475,"t":5.6},{"p":35,"s":34.462,"t":5.4},{"p":35,"s":34.45,"t":5.22},{"p":35,"s":34.44,"t":5.1},{"p":35,"s":34.445,"t":4.98},{"p":35,"s":34.428,"t":4.92},{"p":35,"s":34.436,"t":4.8},{"p":35,"s":34.425,"t":4.72},{"p":35,"s":34.433,"t":4.62},{"p":35,"s":34.42,"t":4.55},{"p":35,"s":34.428,"t":4.45},{"p":35,"s":34.435,"t":4.35},{"p":35,"s":34.432,"t":4.25},{"p":35,"s":34.445,"t":4.16},{"p":35,"s":34.462,"t":4.12},{"p":35,"s":34.49,"t":4.15},{"p":35,"s":34.52,"t":4.18},{"p":35,"s":34.56,"t":4.2},{"p":35,"s":34.6,"t":4.23},{"p":35,"s":34.65,"t":4.27},{"p":35,"s":34.7,"t":4.32},{"p":35,"s":34.75,"t":4.36},{"p":35,"s":34.8,"t":4.38},{"p":35,"s":34.85,"t":4.4},{"p":35,"s":34.89,"t":4.37},{"p":35,"s":34.925,"t":4.3},{"p":35,"s":34.955,"t":4.18},{"p":35,"s":34.973,"t":4.04},{"p":35,"s":34.983,"t":3.92},{"p":35,"s":34.976,"t":3.7},{"p":35,"s":34.964,"t":3.44},{"p":35,"s":34.952,"t":3.16},{"p":35,"s":34.94,"t":2.9},
{"p":36,"s":34.97,"t":10.4},{"p":36,"s":34.945,"t":10.0},{"p":36,"s":34.91,"t":9.7},{"p":36,"s":34.875,"t":9.4},{"p":36,"s":34.84,"t":9.1},{"p":36,"s":34.81,"t":8.8},{"p":36,"s":34.785,"t":8.5},{"p":36,"s":34.76,"t":8.2},{"p":36,"s":34.735,"t":7.9},{"p":36,"s":34.71,"t":7.6},{"p":36,"s":34.68,"t":7.3},{"p":36,"s":34.655,"t":7.05},{"p":36,"s":34.632,"t":6.8},{"p":36,"s":34.612,"t":6.55},{"p":36,"s":34.595,"t":6.3},{"p":36,"s":34.58,"t":6.05},{"p":36,"s":34.568,"t":5.8},{"p":36,"s":34.56,"t":5.6},{"p":36,"s":34.558,"t":5.4},{"p":36,"s":34.565,"t":5.2},{"p":36,"s":34.56,"t":5.0},{"p":36,"s":34.568,"t":4.85},{"p":36,"s":34.58,"t":4.72},{"p":36,"s":34.61,"t":4.64},{"p":36,"s":34.65,"t":4.6},{"p":36,"s":34.7,"t":4.58},{"p":36,"s":34.75,"t":4.57},{"p":36,"s":34.8,"t":4.57},{"p":36,"s":34.85,"t":4.56},{"p":36,"s":34.89,"t":4.52},{"p":36,"s":34.925,"t":4.44},{"p":36,"s":34.952,"t":4.32},{"p":36,"s":34.972,"t":4.18},{"p":36,"s":34.985,"t":4.05},{"p":36,"s":34.992,"t":3.95},{"p":36,"s":34.984,"t":3.78},{"p":36,"s":34.972,"t":3.55},{"p":36,"s":34.96,"t":3.3}
]},
"layer":[
{"data":{"name":"contours"},
 "mark":{"type":"line","color":"black","strokeWidth":1,"clip":true},
 "encoding":{
  "x":{"field":"s","type":"quantitative","scale":{"domain":[34.3,35],"nice":false,"zero":false},
       "axis":{"orient":"bottom","values":[34.3,34.4,34.5,34.6,34.7,34.8,34.9,35],"format":"~g","labelPadding":12,"title":"Salinity","titlePadding":22}},
  "y":{"field":"t","type":"quantitative","scale":{"domain":[0,10],"nice":false,"zero":false},
       "axis":{"orient":"left","values":[0,1,2,3,4,5,6,7,8,9,10],"labelPadding":8,"title":"Temperature","titlePadding":30}},
  "detail":{"field":"c","type":"nominal"}}},
{"data":{"name":"profiles"},
 "mark":{"type":"line","color":"black","strokeWidth":1,"clip":true},
 "encoding":{
  "x":{"field":"s","type":"quantitative","axis":{"orient":"top","values":[34.3,34.4,34.5,34.6,34.7,34.8,34.9,35],"labels":false,"title":null}},
  "y":{"field":"t","type":"quantitative","axis":{"orient":"right","values":[0,1,2,3,4,5,6,7,8,9,10],"labels":false,"title":null}},
  "detail":{"field":"p","type":"nominal"},
  "order":{"value":null}}}
],
"resolve":{"axis":{"x":"independent","y":"independent"}}
}
